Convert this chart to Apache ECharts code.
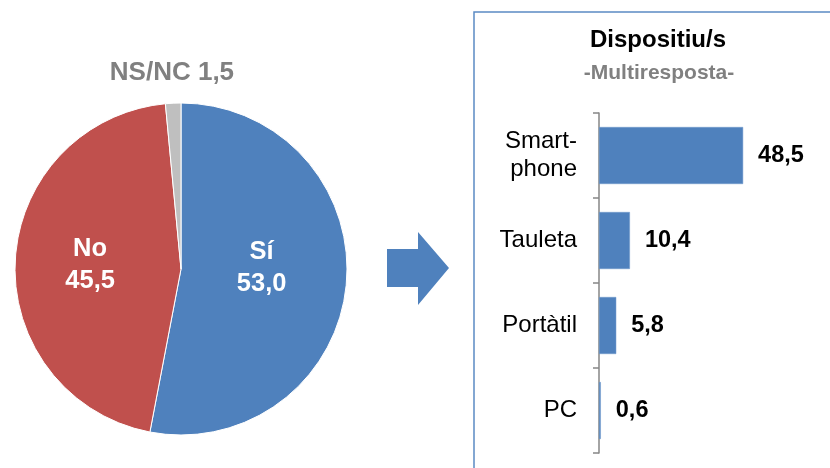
<!DOCTYPE html>
<html>
<head>
<meta charset="utf-8">
<script src="https://cdn.jsdelivr.net/npm/echarts@6/dist/echarts.min.js"></script>
<style>
  html, body { margin: 0; padding: 0; background: #fff; }
  #main { width: 830px; height: 468px; }
</style>
</head>
<body>
<div id="main"></div>
<script>
// pie: Sí / No / NS-NC
const pieNames = ['Sí', 'No', 'NS/NC'];
const pieValues = [53.0, 45.5, 1.5];
const pieColors = ['#4F81BD', '#C0504D', '#BFBFBF'];

// bars: dispositiu/s (multiresposta)
const devices = ['Smart-\nphone', 'Tauleta', 'Portàtil', 'PC'];
const deviceValues = [48.5, 10.4, 5.8, 0.6];

const blue = '#4F81BD';
const font = 'Liberation Sans, Arial, sans-serif';

function comma(v) {
  return v.toFixed(1).replace('.', ',');
}

// small nudges so the inside labels sit where excel put them
const labelOffsets = {
  'Sí': [-5, -9],
  'No': [-5, 0]
};

const chart = echarts.init(document.getElementById('main'));

const pieData = pieNames.map(function (name, i) {
  const item = {
    name: name,
    value: pieValues[i],
    itemStyle: {color: pieColors[i]}
  };
  if (name === 'NS/NC') {
    // small slice: label sits above the pie, grey, single line
    item.label = {
      position: 'inside',
      offset: [-5, -110],
      color: '#808080',
      fontSize: 26,
      formatter: function (p) { return p.name + ' ' + comma(p.value); }
    };
  } else {
    item.label = {offset: labelOffsets[name]};
  }
  return item;
});

chart.setOption({
  animation: false,
  backgroundColor: '#fff',
  title: [
    {
      text: 'Dispositiu/s',
      left: 658,
      top: 28,
      textAlign: 'center',
      padding: 0,
      textStyle: {fontFamily: font, fontSize: 24, fontWeight: 'bold', color: '#000'}
    },
    {
      text: '-Multiresposta-',
      left: 659,
      top: 63,
      textAlign: 'center',
      padding: 0,
      textStyle: {fontFamily: font, fontSize: 21, fontWeight: 'bold', color: '#808080'}
    }
  ],
  grid: {
    left: 599,
    top: 113,
    height: 340,
    right: 23,
    containLabel: false
  },
  xAxis: {
    type: 'value',
    min: 0,
    max: 70,
    show: false
  },
  yAxis: {
    type: 'category',
    inverse: true,
    data: devices,
    axisLine: {lineStyle: {color: '#868686', width: 1.5}},
    axisTick: {show: true, length: 6, lineStyle: {color: '#868686', width: 1.5}},
    axisLabel: {
      fontFamily: font,
      fontSize: 24,
      color: '#000',
      margin: 22,
      lineHeight: 28
    },
    splitLine: {show: false}
  },
  series: [
    {
      type: 'pie',
      center: [181, 269],
      radius: 166,
      startAngle: 90,
      clockwise: true,
      data: pieData,
      itemStyle: {borderColor: '#fff', borderWidth: 1},
      label: {
        position: 'inside',
        fontFamily: font,
        fontSize: 25.5,
        fontWeight: 'bold',
        color: '#fff',
        lineHeight: 32,
        formatter: function (p) { return p.name + '\n' + comma(p.value); }
      },
      labelLine: {show: false},
      emphasis: {disabled: true}
    },
    {
      type: 'bar',
      data: deviceValues,
      barWidth: 57,
      itemStyle: {color: blue, borderColor: '#6f98cc', borderWidth: 0.5},
      label: {
        show: true,
        position: 'right',
        distance: 15,
        fontFamily: font,
        fontSize: 23.5,
        fontWeight: 'bold',
        color: '#000',
        formatter: function (p) { return comma(p.value); }
      }
    }
  ],
  graphic: [
    {
      // frame around the right panel
      type: 'rect',
      shape: {x: 474, y: 12, width: 400, height: 500},
      style: {fill: null, stroke: '#5b8ac4', lineWidth: 1.5},
      silent: true
    },
    {
      // arrow between the two charts
      type: 'polygon',
      shape: {
        points: [[387, 249], [418, 249], [418, 232], [449, 268], [418, 305], [418, 287], [387, 287]]
      },
      style: {fill: blue},
      silent: true
    }
  ]
});
</script>
</body>
</html>
